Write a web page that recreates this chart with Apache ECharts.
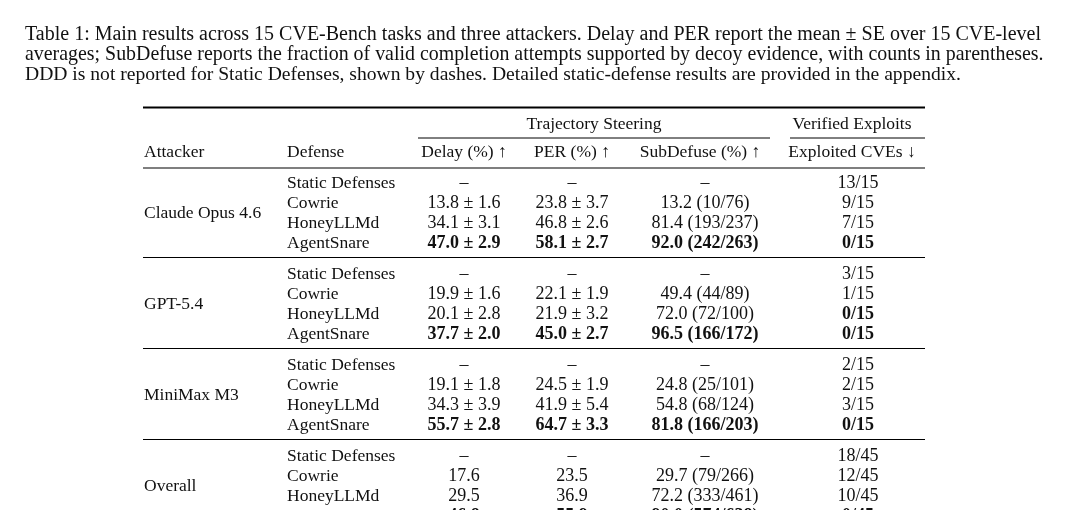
<!DOCTYPE html>
<html>
<head>
<meta charset="utf-8">
<script src="https://cdn.jsdelivr.net/npm/echarts@6/dist/echarts.min.js"></script>
<style>
  html, body { margin: 0; padding: 0; background: #fff; }
  #main { width: 1086px; height: 510px; }
</style>
</head>
<body>
<div id="main"></div>
<script>
// caption + table content
const captionLines = [
  'Table 1: Main results across 15 CVE-Bench tasks and three attackers. Delay and PER report the mean \u00b1 SE over 15 CVE-level',
  'averages; SubDefuse reports the fraction of valid completion attempts supported by decoy evidence, with counts in parentheses.',
  'DDD is not reported for Static Defenses, shown by dashes. Detailed static-defense results are provided in the appendix.'
];
const groupHeaders = ['Trajectory Steering', 'Verified Exploits'];
const columnHeaders = ['Attacker', 'Defense', 'Delay (%) \u2191', 'PER (%) \u2191', 'SubDefuse (%) \u2191', 'Exploited CVEs \u2193'];

const attackers = ['Claude Opus 4.6', 'GPT-5.4', 'MiniMax M3', 'Overall'];
const defenses = ['Static Defenses', 'Cowrie', 'HoneyLLMd', 'AgentSnare'];

const delayMean = [[null, 13.8, 34.1, 47.0], [null, 19.9, 20.1, 37.7], [null, 19.1, 34.3, 55.7], [null, 17.6, 29.5, 46.8]];
const delaySE   = [[null, 1.6, 3.1, 2.9], [null, 1.6, 2.8, 2.0], [null, 1.8, 3.9, 2.8], [null, null, null, null]];
const perMean   = [[null, 23.8, 46.8, 58.1], [null, 22.1, 21.9, 45.0], [null, 24.5, 41.9, 64.7], [null, 23.5, 36.9, 55.9]];
const perSE     = [[null, 3.7, 2.6, 2.7], [null, 1.9, 3.2, 2.7], [null, 1.9, 5.4, 3.3], [null, null, null, null]];
const subPct    = [[null, 13.2, 81.4, 92.0], [null, 49.4, 72.0, 96.5], [null, 24.8, 54.8, 81.8], [null, 29.7, 72.2, 90.0]];
const subHit    = [[null, 10, 193, 242], [null, 44, 72, 166], [null, 25, 68, 166], [null, 79, 333, 574]];
const subAll    = [[null, 76, 237, 263], [null, 89, 100, 172], [null, 101, 124, 203], [null, 266, 461, 638]];
const exploited = [[13, 9, 7, 0], [3, 1, 0, 0], [2, 2, 3, 0], [18, 12, 10, 0]];
const cveTotal  = [15, 15, 15, 45];

// layout (pixels in the hidden axes' space)
const FONT = '"Liberation Serif", "Times New Roman", serif';
const TXT = '#111';
const colX = [144, 287, 464, 572, 705, 858];
const headX = [144, 287, 464, 572, 700, 852];
const tableL = 143, tableR = 925;
const groupTop = 183, groupStep = 91, rowStep = 20;
const textSize = 17.5, numSize = 18;
const captionSizes = [20, 19.9, 19.6]; // first two lines are justified in the source

function fmt(v) { return v.toFixed(1); }
function maxIdx(arr) { const m = Math.max(...arr.filter(v => v != null)); return arr.map(v => v === m); }
function minIdx(arr) { const m = Math.min(...arr); return arr.map(v => v === m); }

// build cells
const cells = [];
captionLines.forEach((t, i) => cells.push({ x: 25, y: 35 + i * 20, text: t, bold: false, align: 'left', size: captionSizes[i] }));
columnHeaders.forEach((h, i) => cells.push({ x: headX[i], y: 152, text: h, bold: false, align: i < 2 ? 'left' : 'center', size: textSize }));
cells.push({ x: 594, y: 124, text: groupHeaders[0], bold: false, align: 'center', size: textSize });
cells.push({ x: 852, y: 124, text: groupHeaders[1], bold: false, align: 'center', size: textSize });

attackers.forEach((a, g) => {
  const y0 = groupTop + g * groupStep;
  cells.push({ x: colX[0], y: y0 + 1.5 * rowStep, text: a, bold: false, align: 'left', size: textSize });
  const bD = maxIdx(delayMean[g]), bP = maxIdx(perMean[g]), bS = maxIdx(subPct[g]), bE = minIdx(exploited[g]);
  defenses.forEach((d, r) => {
    const y = y0 + r * rowStep;
    cells.push({ x: colX[1], y, text: d, bold: false, align: 'left', size: textSize });
    const dash = delayMean[g][r] == null;
    const dTxt = dash ? '\u2013' : (delaySE[g][r] == null ? fmt(delayMean[g][r]) : fmt(delayMean[g][r]) + ' \u00b1 ' + fmt(delaySE[g][r]));
    const pTxt = dash ? '\u2013' : (perSE[g][r] == null ? fmt(perMean[g][r]) : fmt(perMean[g][r]) + ' \u00b1 ' + fmt(perSE[g][r]));
    const sTxt = dash ? '\u2013' : fmt(subPct[g][r]) + ' (' + subHit[g][r] + '/' + subAll[g][r] + ')';
    cells.push({ x: colX[2], y, text: dTxt, bold: !dash && bD[r], align: 'center', size: numSize });
    cells.push({ x: colX[3], y, text: pTxt, bold: !dash && bP[r], align: 'center', size: numSize });
    cells.push({ x: colX[4], y, text: sTxt, bold: !dash && bS[r], align: 'center', size: numSize });
    cells.push({ x: colX[5], y, text: exploited[g][r] + '/' + cveTotal[g], bold: bE[r], align: 'center', size: numSize });
  });
});

// rules: [x1, x2, y, width]
const rules = [
  [tableL, tableR, 107.5, 1.8],
  [418, 770, 138, 1],
  [790, tableR, 138, 1],
  [tableL, tableR, 168, 1.1]
];
for (let g = 0; g < attackers.length - 1; g++) {
  rules.push([tableL, tableR, groupTop + g * groupStep + 3 * rowStep + 14.5, 1.1]);
}

const chart = echarts.init(document.getElementById('main'), null, { renderer: 'canvas' });
chart.setOption({
  backgroundColor: '#fff',
  animation: false,
  grid: { left: 0, right: 0, top: 0, bottom: 0 },
  xAxis: { type: 'value', min: 0, max: 1086, show: false },
  yAxis: { type: 'value', min: 0, max: 510, inverse: true, show: false },
  series: [
    {
      type: 'custom',
      data: rules,
      clip: false,
      renderItem(params, api) {
        const p1 = api.coord([api.value(0), api.value(2)]);
        const p2 = api.coord([api.value(1), api.value(2)]);
        return {
          type: 'line',
          shape: { x1: p1[0], y1: p1[1], x2: p2[0], y2: p2[1] },
          style: { stroke: '#000', lineWidth: api.value(3) }
        };
      }
    },
    {
      type: 'custom',
      data: cells.map(c => [c.x, c.y]),
      clip: false,
      renderItem(params, api) {
        const c = cells[params.dataIndex];
        const p = api.coord([api.value(0), api.value(1)]);
        return {
          type: 'text',
          style: {
            text: c.text, x: p[0], y: p[1],
            fill: TXT,
            font: (c.bold ? 'bold ' : '') + c.size + 'px ' + FONT,
            align: c.align, verticalAlign: 'middle'
          }
        };
      }
    }
  ]
});
</script>
</body>
</html>
